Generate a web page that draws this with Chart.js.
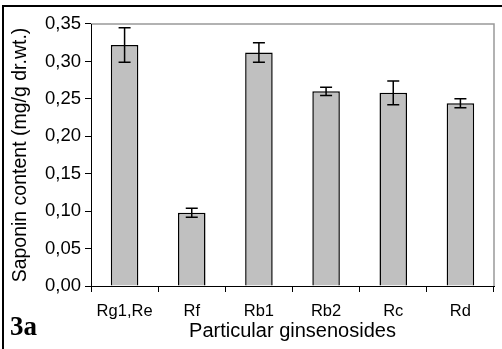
<!DOCTYPE html>
<html>
<head>
<meta charset="utf-8">
<script src="https://cdn.jsdelivr.net/npm/chart.js@4/dist/chart.umd.min.js"></script>
<style>
  html, body { margin: 0; padding: 0; background: #fff; }
  #wrap { width: 502px; height: 349px; position: relative; }
</style>
</head>
<body>
<div id="wrap"><canvas id="c" width="502" height="349"></canvas></div>
<script>
const categories = ['Rg1,Re', 'Rf', 'Rb1', 'Rb2', 'Rc', 'Rd'];
const saponinContent = [0.322, 0.098, 0.312, 0.260, 0.258, 0.244];
const saponinError = [0.023, 0.006, 0.013, 0.0055, 0.016, 0.006];
const yTickLabels = ['0,00', '0,05', '0,10', '0,15', '0,20', '0,25', '0,30', '0,35'];
const xTitle = 'Particular ginsenosides';
const yTitle = 'Saponin content (mg/g dr.wt.)';
const panelLabel = '3a';

const errorBars = {
  id: 'errorBars',
  afterDatasetsDraw(chart) {
    const ctx = chart.ctx;
    const meta = chart.getDatasetMeta(0);
    const y = chart.scales.y;
    ctx.save();
    ctx.strokeStyle = '#000';
    ctx.lineWidth = 1.5;
    meta.data.forEach((bar, i) => {
      const v = saponinContent[i], e = saponinError[i];
      const yTop = y.getPixelForValue(v + e);
      const yBot = y.getPixelForValue(v - e);
      const x = bar.x;
      const cap = 6;
      ctx.beginPath();
      ctx.moveTo(x, yTop); ctx.lineTo(x, yBot);
      ctx.moveTo(x - cap, yTop); ctx.lineTo(x + cap, yTop);
      ctx.moveTo(x - cap, yBot); ctx.lineTo(x + cap, yBot);
      ctx.stroke();
    });
    ctx.restore();
  }
};

const frame = {
  id: 'frame',
  beforeDraw(chart) {
    const ctx = chart.ctx;
    const a = chart.chartArea;
    ctx.save();
    ctx.fillStyle = '#fff';
    ctx.fillRect(0, 0, chart.width, chart.height);
    ctx.strokeStyle = '#000';
    ctx.lineWidth = 2;
    ctx.beginPath();
    ctx.moveTo(3, chart.height);
    ctx.lineTo(3, 6);
    ctx.lineTo(chart.width, 6);
    ctx.stroke();
    ctx.strokeStyle = '#999';
    ctx.lineWidth = 1.5;
    ctx.beginPath();
    ctx.moveTo(a.left, a.top);
    ctx.lineTo(a.right, a.top);
    ctx.lineTo(a.right, a.bottom);
    ctx.stroke();
    ctx.restore();
  },
  afterDraw(chart) {
    const ctx = chart.ctx;
    ctx.save();
    ctx.fillStyle = '#000';
    ctx.font = 'bold 27px "Liberation Serif", "Times New Roman", serif';
    ctx.textAlign = 'left';
    ctx.textBaseline = 'alphabetic';
    ctx.fillText(panelLabel, 10, 335);
    ctx.restore();
  }
};

new Chart(document.getElementById('c'), {
  type: 'bar',
  data: {
    labels: categories,
    datasets: [{
      data: saponinContent,
      backgroundColor: '#c0c0c0',
      borderColor: '#000',
      borderWidth: 1.5,
      barPercentage: 0.41,
      categoryPercentage: 1.0
    }]
  },
  options: {
    responsive: false,
    animation: false,
    devicePixelRatio: 1,
    layout: { padding: { left: 0, right: 8, top: 24, bottom: 0 } },
    plugins: { legend: { display: false }, tooltip: { enabled: false } },
    scales: {
      x: {
        offset: true,
        afterFit(s) { s.height = 63; },
        grid: { offset: true, drawOnChartArea: false, drawTicks: true, tickLength: 6, color: '#000', lineWidth: 1 },
        border: { display: true, color: '#000', width: 1 },
        ticks: { color: '#000', font: { family: '"Liberation Sans", Arial, sans-serif', size: 16.5 }, padding: 10, maxRotation: 0, autoSkip: false },
        title: { display: true, text: xTitle, color: '#000', font: { family: '"Liberation Sans", Arial, sans-serif', size: 20 }, padding: { top: 0, bottom: 6 } }
      },
      y: {
        min: 0, max: 0.35,
        afterFit(s) { s.width = 91; },
        afterBuildTicks(s) { s.ticks = yTickLabels.map((t, i) => ({ value: i * 0.05 })); },
        grid: { drawOnChartArea: false, drawTicks: true, tickLength: 6, color: '#000', lineWidth: 1 },
        border: { display: true, color: '#000', width: 1 },
        ticks: { color: '#000', font: { family: '"Liberation Sans", Arial, sans-serif', size: 18.5 }, padding: 4,
          callback: (v, i) => yTickLabels[i] },
        title: { display: true, text: yTitle, color: '#000', font: { family: '"Liberation Sans", Arial, sans-serif', size: 19.5 }, padding: { top: 9, bottom: 0 } }
      }
    }
  },
  plugins: [frame, errorBars]
});
</script>
</body>
</html>
